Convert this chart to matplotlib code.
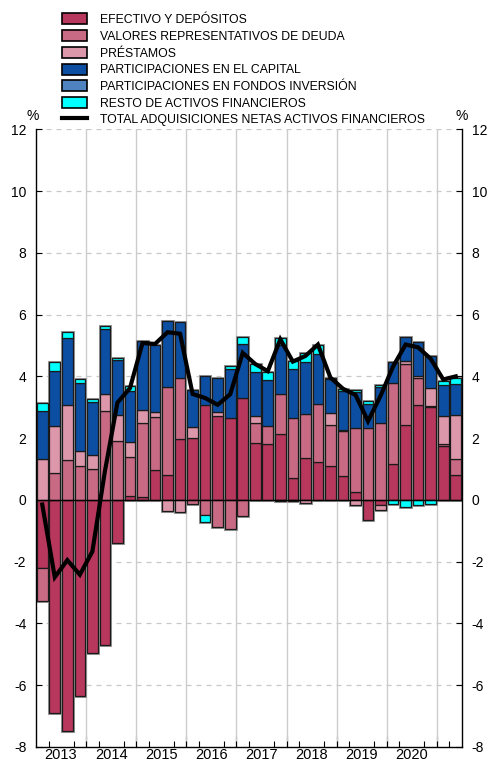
import numpy as np
import matplotlib
matplotlib.use("Agg")
import matplotlib.pyplot as plt
from matplotlib.patches import Patch
from matplotlib.lines import Line2D

plt.rcParams["font.family"] = ["Liberation Sans", "DejaVu Sans"]
plt.rcParams["axes.unicode_minus"] = False

# quarterly data, 2013 Q1 .. 2021 Q2 (% )
years = ["2013", "2014", "2015", "2016", "2017", "2018", "2019", "2020"]
n_quarters = 34

efectivo = [-2.22, -6.90, -7.47, -6.35, -4.97, -4.71, -1.40, 0.12,
            0.10, 0.98, 0.81, 1.96, 2.01, 3.06, 2.72, 2.66,
            3.31, 1.85, 1.80, 2.12, 0.71, 1.36, 1.22, 1.09,
            0.79, 0.25, -0.66, -0.17, 1.15, 2.42, 3.07, 3.01,
            1.76, 0.82]
valores = [-1.05, 0.88, 1.28, 1.11, 1.01, 2.87, 1.90, 1.27,
           2.40, 1.70, 2.86, 2.00, -0.12, -0.50, -0.89, -0.93,
           -0.53, 0.65, 0.59, 1.32, 1.95, 1.41, 1.88, 1.32,
           1.44, 2.09, 2.34, 2.48, 2.65, 1.97, 0.89, 0.03,
           0.06, 0.49]
prestamos = [1.31, 1.52, 1.79, 0.47, 0.45, 0.55, 0.86, 0.50,
             0.41, 0.17, -0.37, -0.38, 0.35, 0.00, 0.13, 0.00,
             0.00, 0.22, 0.00, -0.04, -0.03, -0.10, 0.00, 0.39,
             0.05, -0.15, 0.00, -0.17, 0.00, 0.11, 0.06, 0.59,
             0.90, 1.43]
capital = [1.57, 1.76, 2.16, 2.22, 1.71, 2.13, 1.76, 1.63,
           2.22, 2.17, 2.13, 1.81, 1.19, 0.96, 1.11, 1.57,
           1.73, 1.43, 1.48, 1.57, 1.57, 1.70, 1.62, 1.11,
           1.25, 1.16, 0.78, 1.16, 0.67, 0.76, 1.10, 1.04,
           0.99, 1.00]
fondos = [0.0] * n_quarters
resto = [0.25, 0.29, 0.21, 0.11, 0.11, 0.09, 0.06, 0.17,
         0.00, 0.00, 0.00, 0.00, 0.00, -0.22, 0.00, 0.11,
         0.25, 0.24, 0.28, 0.22, 0.27, 0.30, 0.29, 0.05,
         0.07, 0.05, 0.08, 0.07, -0.12, -0.24, -0.18, -0.12,
         0.14, 0.22]
total = [-0.15, -2.50, -1.95, -2.42, -1.67, 0.93, 3.15, 3.62,
         5.08, 5.05, 5.43, 5.38, 3.43, 3.30, 3.08, 3.42,
         4.76, 4.40, 4.17, 5.20, 4.48, 4.66, 5.03, 3.96,
         3.60, 3.40, 2.55, 3.37, 4.32, 5.03, 4.94, 4.57,
         3.90, 4.00]

series = [
    ("EFECTIVO Y DEPÓSITOS", efectivo, "#b7375d"),
    ("VALORES REPRESENTATIVOS DE DEUDA", valores, "#c96a84"),
    ("PRÉSTAMOS", prestamos, "#dc97ab"),
    ("PARTICIPACIONES EN EL CAPITAL", capital, "#0b4ea2"),
    ("PARTICIPACIONES EN FONDOS INVERSIÓN", fondos, "#4f83bf"),
    ("RESTO DE ACTIVOS FINANCIEROS", resto, "#00ffff"),
]

fig = plt.figure(figsize=(4.96, 7.65), dpi=100)
ax = fig.add_axes([36 / 496, 18 / 765, 426 / 496, 617.7 / 765])

x = np.arange(n_quarters)
pos_base = np.zeros(n_quarters)
neg_base = np.zeros(n_quarters)
for label, vals, color in series:
    v = np.array(vals)
    p = np.where(v > 0, v, 0)
    n = np.where(v < 0, v, 0)
    mp = p > 0
    mn = n < 0
    ax.bar(x[mp], p[mp], bottom=pos_base[mp], width=0.85, color=color,
           edgecolor="#1a1a1a", linewidth=0.9, zorder=3)
    ax.bar(x[mn], n[mn], bottom=neg_base[mn], width=0.85, color=color,
           edgecolor="#1a1a1a", linewidth=0.9, zorder=3)
    pos_base += p
    neg_base += n

# soft grey halo round each bar, as in the original
ax.bar(x, pos_base - neg_base, bottom=neg_base, width=0.85, fill=False,
       edgecolor="#9a9a9a", linewidth=2.2, zorder=2.5)

ax.plot(x, total, color="black", linewidth=3, zorder=5,
        solid_joinstyle="miter")
ax.axhline(0, color="black", linewidth=1, zorder=4)

# grid: dashed horizontals, solid year separators
for yv in range(-6, 13, 2):
    if yv != 0:
        ax.axhline(yv, color="#c8c8c8", linewidth=0.9, linestyle=(0, (4, 4)),
                   zorder=1)
year_bounds = np.arange(3.5, n_quarters - 1, 4)
for xb in year_bounds:
    ax.axvline(xb, color="#cccccc", linewidth=1, zorder=1)

ax.set_xlim(-0.5, n_quarters - 0.5)
ax.set_ylim(-8, 12)
ax.spines["top"].set_visible(False)
for s in ["left", "right", "bottom"]:
    ax.spines[s].set_linewidth(1)

ax.set_yticks(range(-8, 13, 2))
ax.tick_params(axis="y", direction="in", length=4, left=True, right=True,
               labelleft=True, labelright=True, labelsize=10, pad=7)

# x axis: year labels centred, minor ticks at quarter boundaries
year_centers = np.arange(1.5, 4 * len(years), 4)
ax.set_xticks(year_centers)
ax.set_xticklabels(years, fontsize=10.5)
ax.tick_params(axis="x", which="major", length=0, pad=1)
ax.set_xticks(np.arange(0.5, n_quarters - 1, 1), minor=True)
ax.tick_params(axis="x", which="minor", direction="in", length=4, width=0.8)
sec = ax.secondary_xaxis("bottom")
sec.set_xticks(year_bounds)
sec.set_xticklabels([])
sec.tick_params(direction="in", length=8, width=0.8)
sec.spines["bottom"].set_visible(False)

fig.text(33 / 496, 1 - 116 / 765, "%", ha="center", va="center", fontsize=10)
fig.text(462 / 496, 1 - 116 / 765, "%", ha="center", va="center", fontsize=10)

handles = [Patch(facecolor=c, edgecolor="black", linewidth=1.2)
           for _, _, c in series]
handles.append(Line2D([], [], color="black", linewidth=3))
labels = [s[0] for s in series] + ["TOTAL ADQUISICIONES NETAS ACTIVOS FINANCIEROS"]
fig.legend(handles, labels, loc="upper left",
           bbox_to_anchor=(62 / 496, 1 - 13.5 / 765), frameon=False,
           fontsize=8.8, handlelength=2.05, handleheight=1.0,
           handletextpad=1.05, labelspacing=0.33, borderpad=0,
           borderaxespad=0)

fig.savefig("out.png", dpi=100)
